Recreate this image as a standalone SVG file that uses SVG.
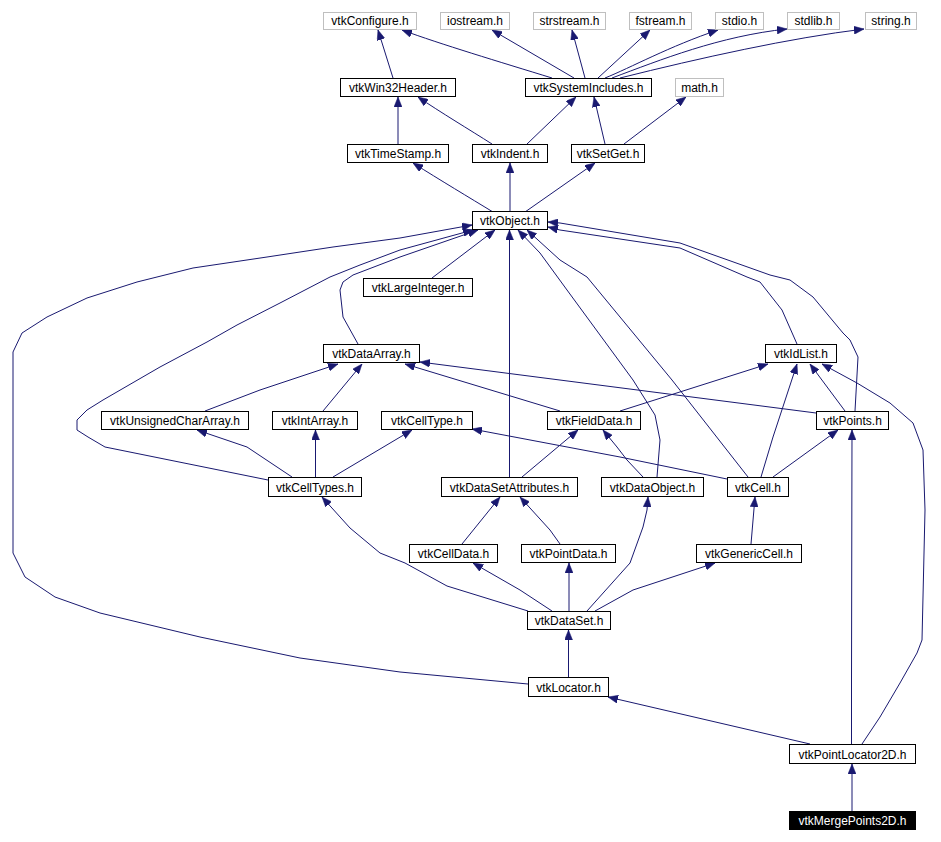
<svg xmlns="http://www.w3.org/2000/svg" width="941" height="842" viewBox="0 0 941 842">
<style>
.n rect{fill:#fff;stroke:#000;stroke-width:1}
.g rect{fill:#fff;stroke:#bfbfbf;stroke-width:1}
.m rect{fill:#000;stroke:#000;stroke-width:1}
text{font-family:"Liberation Sans",Arial,sans-serif;font-size:12px;text-anchor:middle;fill:#000}
.m text{fill:#fff}
#edges path{fill:none;stroke:#191970;stroke-width:1;marker-end:url(#ah)}
</style>
<defs>
<marker id="ah" markerWidth="10" markerHeight="8" refX="10" refY="4" orient="auto" markerUnits="userSpaceOnUse">
<path d="M0,0 L10,4 L0,8 z" fill="#191970" stroke="#191970" stroke-width="0.5"/>
</marker>
</defs>
<rect width="941" height="842" fill="#fff"/>
<g id="edges">
<path d="M393,78 L378,30"/>
<path d="M552,78 C 500,62 440,44 402,30"/>
<path d="M574,78 L492,30"/>
<path d="M585,78 L572,30"/>
<path d="M598,78 L650,30"/>
<path d="M605,78 C 630,68 670,46 718,30"/>
<path d="M612,78 C 660,60 720,36 787,29"/>
<path d="M620,78 C 700,58 790,38 864,29"/>
<path d="M398,144 L398,97"/>
<path d="M492,144 C 470,130 440,112 418,97"/>
<path d="M527,144 L576,97"/>
<path d="M605,144 L594,97"/>
<path d="M624,144 L686,97"/>
<path d="M493,212 C 470,198 440,180 413,163"/>
<path d="M510,212 L510,163"/>
<path d="M525,212 L595,163"/>
<path d="M528,684 L400,672 L300,658 L200,637 L100,613 L55,597 L25,577 L13,553 L13,352 L22,333 L47,317 L87,298 L137,282 L193,268 L267,257 L333,247 L400,238 L472,225"/>
<path d="M268,480 L105,447 L88,437 L77,430 L77,420 L87,410 L103,400 L160,367 L207,342 L237,325 L280,303 L330,277 L360,265 L400,250 L473,230"/>
<path d="M358,344 L343,317 L340,290 L343,282 L353,275 L400,257 L478,230"/>
<path d="M432,278 L495,230"/>
<path d="M509.5,477 L509.5,230"/>
<path d="M657,477 L660,440 L655,415 L633,380 L567,290 L540,253 L518,230"/>
<path d="M748,477 L672,380 L587,277 L560,260 L527,230"/>
<path d="M797,344 L782,310 L760,282 L747,277 L680,248 L560,230 L548,227"/>
<path d="M855,411 L858,357 L850,340 L843,333 L813,297 L790,280 L770,275 L680,243 L560,223 L548,222"/>
<path d="M205,411 L260,390 L338,364"/>
<path d="M323,411 L362,364"/>
<path d="M560,411 L405,364"/>
<path d="M816,413 L420,362"/>
<path d="M620,411 L768,364"/>
<path d="M761,477 L773,437 L797,364"/>
<path d="M845,411 L810,364"/>
<path d="M862,744 L880,717 L900,683 L917,653 L922,640 L925,510 L923,450 L913,423 L890,403 L857,383 L822,364"/>
<path d="M851.5,744 L851.5,680 L852,430"/>
<path d="M292,477 L247,447 L197,430"/>
<path d="M315.5,477 L315.5,430"/>
<path d="M333,477 L412,430"/>
<path d="M727,479 L620,457 L472,429"/>
<path d="M522,477 L578,430"/>
<path d="M643,477 L627,460 L617,447 L603,430"/>
<path d="M773,477 L838,430"/>
<path d="M462,544 L500,497"/>
<path d="M560,544 L550,530 L520,497"/>
<path d="M751,544 L755,497"/>
<path d="M528,611 L447,586 L405,563 L380,553 L350,528 L322,497"/>
<path d="M552,611 L520,590 L473,563"/>
<path d="M569,611 L569,563"/>
<path d="M587,611 L630,563 L643,527 L647,510 L648,497"/>
<path d="M595,611 L633,590 L715,563"/>
<path d="M568.5,677 L568.5,630"/>
<path d="M810,744 L608,697"/>
<path d="M852,811 L852,764"/>
</g>
<g id="vtkConfigure" class="g"><rect x="323.5" y="12.5" width="93" height="17"/><text x="370" y="25">vtkConfigure.h</text></g>
<g id="iostream" class="g"><rect x="440.5" y="12.5" width="69" height="17"/><text x="475" y="25">iostream.h</text></g>
<g id="strstream" class="g"><rect x="533.5" y="12.5" width="72" height="17"/><text x="569.5" y="25">strstream.h</text></g>
<g id="fstream" class="g"><rect x="629.5" y="12.5" width="62" height="17"/><text x="660.5" y="25">fstream.h</text></g>
<g id="stdio" class="g"><rect x="715.5" y="12.5" width="48" height="17"/><text x="739.5" y="25">stdio.h</text></g>
<g id="stdlib" class="g"><rect x="787.5" y="12.5" width="52" height="17"/><text x="813.5" y="25">stdlib.h</text></g>
<g id="string" class="g"><rect x="865.5" y="12.5" width="51" height="17"/><text x="891" y="25">string.h</text></g>
<g id="vtkWin32Header" class="n"><rect x="340.5" y="78.5" width="115" height="18"/><text x="398" y="92">vtkWin32Header.h</text></g>
<g id="vtkSystemIncludes" class="n"><rect x="525.5" y="78.5" width="126" height="18"/><text x="588.5" y="92">vtkSystemIncludes.h</text></g>
<g id="math" class="g"><rect x="675.5" y="78.5" width="48" height="18"/><text x="699.5" y="92">math.h</text></g>
<g id="vtkTimeStamp" class="n"><rect x="347.5" y="144.5" width="101" height="18"/><text x="398" y="158">vtkTimeStamp.h</text></g>
<g id="vtkIndent" class="n"><rect x="472.5" y="144.5" width="75" height="18"/><text x="510" y="158">vtkIndent.h</text></g>
<g id="vtkSetGet" class="n"><rect x="571.5" y="144.5" width="73" height="18"/><text x="608" y="158">vtkSetGet.h</text></g>
<g id="vtkObject" class="n"><rect x="472.5" y="211.5" width="75" height="18"/><text x="510" y="225">vtkObject.h</text></g>
<g id="vtkLargeInteger" class="n"><rect x="363.5" y="278.5" width="109" height="18"/><text x="418" y="292">vtkLargeInteger.h</text></g>
<g id="vtkDataArray" class="n"><rect x="323.5" y="344.5" width="96" height="18"/><text x="371.5" y="358">vtkDataArray.h</text></g>
<g id="vtkIdList" class="n"><rect x="765.5" y="344.5" width="71" height="18"/><text x="801" y="358">vtkIdList.h</text></g>
<g id="vtkUnsignedCharArray" class="n"><rect x="101.5" y="411.5" width="147" height="18"/><text x="175" y="425">vtkUnsignedCharArray.h</text></g>
<g id="vtkIntArray" class="n"><rect x="272.5" y="411.5" width="85" height="18"/><text x="315" y="425">vtkIntArray.h</text></g>
<g id="vtkCellType" class="n"><rect x="381.5" y="411.5" width="91" height="18"/><text x="427" y="425">vtkCellType.h</text></g>
<g id="vtkFieldData" class="n"><rect x="547.5" y="411.5" width="93" height="18"/><text x="594" y="425">vtkFieldData.h</text></g>
<g id="vtkPoints" class="n"><rect x="816.5" y="411.5" width="72" height="18"/><text x="852.5" y="425">vtkPoints.h</text></g>
<g id="vtkCellTypes" class="n"><rect x="268.5" y="477.5" width="93" height="19"/><text x="315" y="491.5">vtkCellTypes.h</text></g>
<g id="vtkDataSetAttributes" class="n"><rect x="441.5" y="477.5" width="136" height="19"/><text x="509.5" y="491.5">vtkDataSetAttributes.h</text></g>
<g id="vtkDataObject" class="n"><rect x="601.5" y="477.5" width="102" height="19"/><text x="652.5" y="491.5">vtkDataObject.h</text></g>
<g id="vtkCell" class="n"><rect x="727.5" y="477.5" width="61" height="19"/><text x="758" y="491.5">vtkCell.h</text></g>
<g id="vtkCellData" class="n"><rect x="409.5" y="544.5" width="88" height="18"/><text x="453.5" y="558">vtkCellData.h</text></g>
<g id="vtkPointData" class="n"><rect x="521.5" y="544.5" width="94" height="18"/><text x="568.5" y="558">vtkPointData.h</text></g>
<g id="vtkGenericCell" class="n"><rect x="696.5" y="544.5" width="105" height="18"/><text x="749" y="558">vtkGenericCell.h</text></g>
<g id="vtkDataSet" class="n"><rect x="527.5" y="611.5" width="83" height="18"/><text x="569" y="625">vtkDataSet.h</text></g>
<g id="vtkLocator" class="n"><rect x="528.5" y="677.5" width="80" height="19"/><text x="568.5" y="691.5">vtkLocator.h</text></g>
<g id="vtkPointLocator2D" class="n"><rect x="789.5" y="744.5" width="126" height="19"/><text x="852.5" y="758.5">vtkPointLocator2D.h</text></g>
<g id="vtkMergePoints2D" class="m"><rect x="789.5" y="811.5" width="126" height="18"/><text x="852.5" y="825">vtkMergePoints2D.h</text></g>
</svg>
